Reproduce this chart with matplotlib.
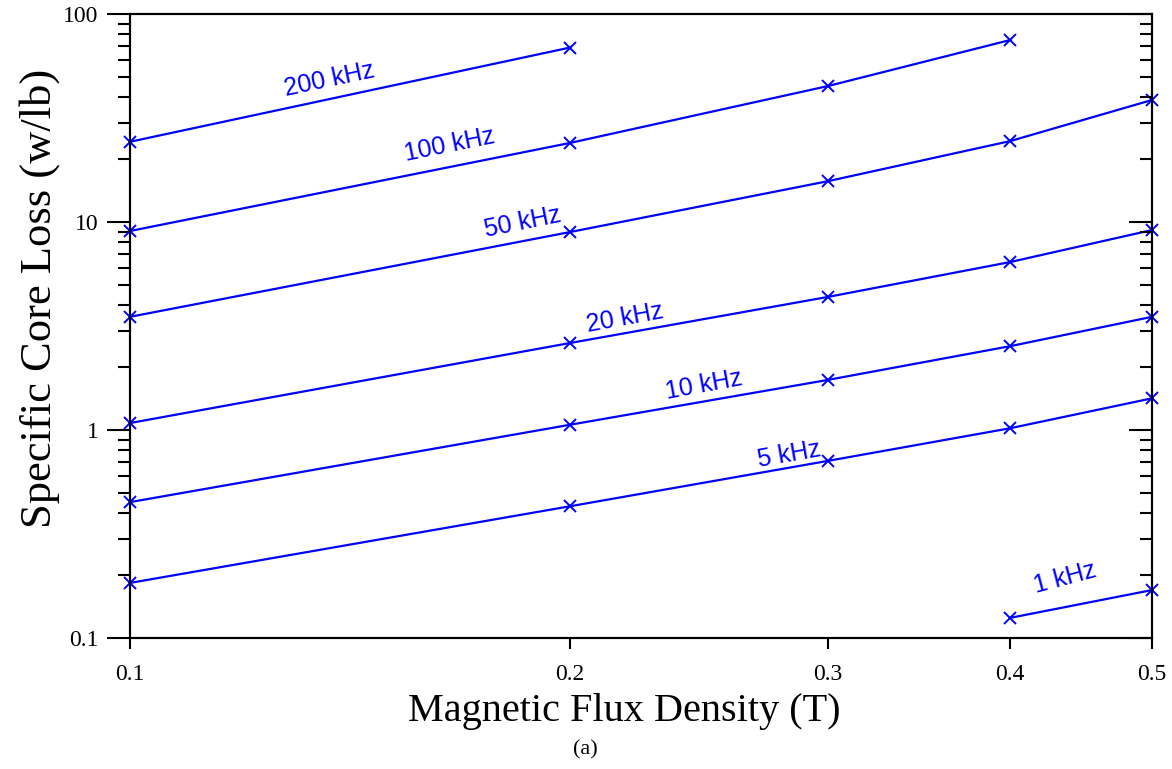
import numpy as np
import matplotlib
matplotlib.use("Agg")
import matplotlib.pyplot as plt
from matplotlib.ticker import LogLocator, FixedLocator, NullLocator, NullFormatter

# Flux density (T) and specific core loss (w/lb) per frequency
b_200k = [0.1, 0.2]
p_200k = [24.3, 69.0]
b_100k = [0.1, 0.2, 0.3, 0.4]
p_100k = [9.05, 24.0, 45.0, 75.0]
b_50k = [0.1, 0.2, 0.3, 0.4, 0.5]
p_50k = [3.5, 8.95, 15.7, 24.5, 38.6]
b_20k = [0.1, 0.2, 0.3, 0.4, 0.5]
p_20k = [1.08, 2.62, 4.36, 6.42, 9.15]
b_10k = [0.1, 0.2, 0.3, 0.4, 0.5]
p_10k = [0.45, 1.06, 1.74, 2.53, 3.5]
b_5k = [0.1, 0.2, 0.3, 0.4, 0.5]
p_5k = [0.184, 0.43, 0.71, 1.02, 1.42]
b_1k = [0.4, 0.5]
p_1k = [0.125, 0.17]

labels = ["200 kHz", "100 kHz", "50 kHz", "20 kHz", "10 kHz", "5 kHz", "1 kHz"]
x_ticks = [0.1, 0.2, 0.3, 0.4, 0.5]
x_ticklabels = ["0.1", "0.2", "0.3", "0.4", "0.5"]
y_ticks = [0.1, 1, 10, 100]
y_ticklabels = ["0.1", "1", "10", "100"]

series = [(b_200k, p_200k), (b_100k, p_100k), (b_50k, p_50k), (b_20k, p_20k),
          (b_10k, p_10k), (b_5k, p_5k), (b_1k, p_1k)]
# where each curve label sits (data coords) and its tilt
label_pos = [(0.137, 48.2, 12), (0.1655, 23.4, 11.5), (0.1856, 10.0, 11.5),
             (0.218, 3.45, 10.5), (0.247, 1.65, 10.5), (0.2825, 0.758, 10),
             (0.436, 0.194, 15)]

blue = "#0000ff"
serif = "Liberation Serif"
sans = "Liberation Sans"

fig = plt.figure(figsize=(11.72, 7.69), dpi=100)
ax = fig.add_axes([130 / 1172, 1 - 638 / 769, (1152 - 130) / 1172, (638 - 14) / 769])

for (b, p) in series:
    ax.plot(b, p, color=blue, lw=1.6, marker="x", ms=9, mew=1.4, clip_on=False,
            zorder=3)

for txt, (lx, ly, rot) in zip(labels, label_pos):
    ax.text(lx, ly, txt, color=blue, fontsize=18, family=sans, rotation=rot,
            rotation_mode="anchor", ha="center", va="center")

ax.set_xscale("log")
ax.set_yscale("log")
ax.set_xlim(0.1, 0.5)
ax.set_ylim(0.1, 100)

ax.xaxis.set_major_locator(FixedLocator(x_ticks))
ax.set_xticklabels(x_ticklabels)
ax.xaxis.set_minor_locator(NullLocator())
ax.xaxis.set_minor_formatter(NullFormatter())
ax.yaxis.set_major_locator(FixedLocator(y_ticks))
ax.set_yticklabels(y_ticklabels)
ax.yaxis.set_minor_locator(LogLocator(base=10, subs=np.arange(2, 10)))
ax.yaxis.set_minor_formatter(NullFormatter())

ax.tick_params(axis="x", which="major", direction="out", length=8, width=1.5,
               pad=11, labelsize=17, top=False)
ax.tick_params(axis="y", which="major", direction="out", length=16.5, width=1.5,
               pad=6, labelsize=17)
ax.tick_params(axis="y", which="minor", direction="out", length=8.5, width=1.5)
for lab in ax.get_xticklabels() + ax.get_yticklabels():
    lab.set_fontfamily(serif)

# right side ticks point inward
ax2 = ax.twinx()
ax2.set_yscale("log")
ax2.set_ylim(0.1, 100)
ax2.yaxis.set_major_locator(FixedLocator(y_ticks))
ax2.yaxis.set_minor_locator(LogLocator(base=10, subs=np.arange(2, 10)))
ax2.yaxis.set_minor_formatter(NullFormatter())
ax2.tick_params(axis="y", which="major", direction="in", length=16.5, width=1.5,
                labelright=False)
ax2.tick_params(axis="y", which="minor", direction="in", length=8.5, width=1.5)

for a in (ax, ax2):
    for s in a.spines.values():
        s.set_linewidth(1.5)

fig.text(40 / 1172, 1 - 298 / 769, "Specific Core Loss (w/lb)", fontsize=32,
         family=serif, rotation=90, ha="center", va="center")
fig.text(624 / 1172, 1 - 712 / 769, "Magnetic Flux Density (T)", fontsize=29,
         family=serif, ha="center", va="center")
fig.text(585 / 1172, 1 - 750 / 769, "(a)", fontsize=16, family=serif,
         ha="center", va="center")

fig.savefig("out.png", dpi=100)
